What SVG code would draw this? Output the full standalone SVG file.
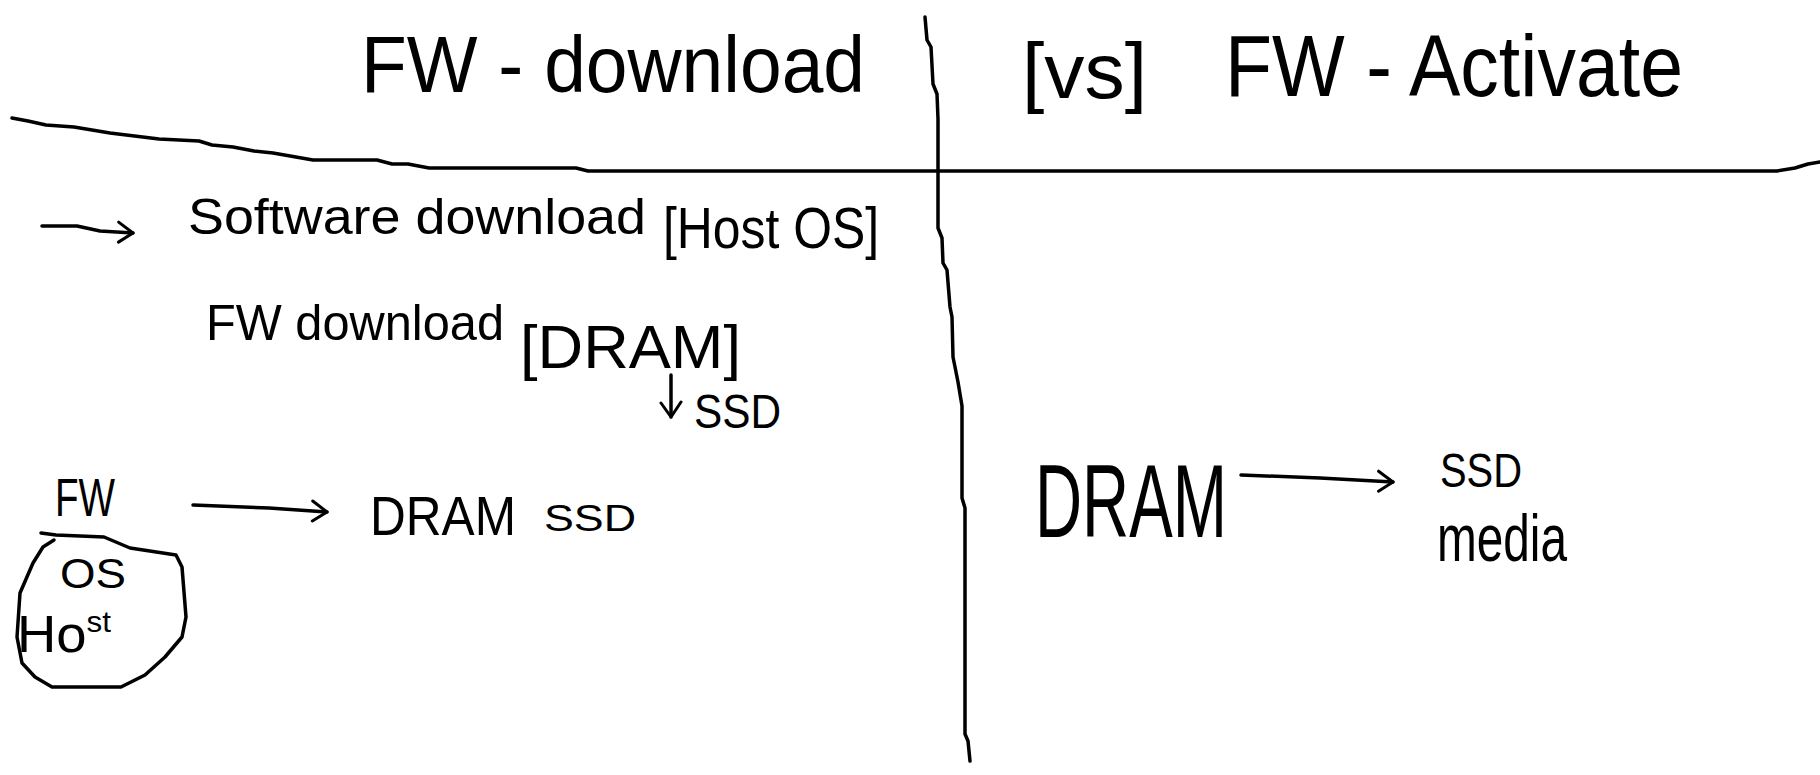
<svg xmlns="http://www.w3.org/2000/svg" width="1820" height="775" viewBox="0 0 1820 775">
<style>
.ink{fill:none;stroke:#000;stroke-width:3.5;stroke-linecap:round;stroke-linejoin:round}
.t{font-family:"Liberation Sans",Arial,sans-serif;fill:#000}
</style>
<defs>
<marker id="vh" viewBox="0 0 20 24" refX="18" refY="12" markerUnits="userSpaceOnUse" markerWidth="20" markerHeight="26" orient="auto">
<path d="M3,2 L18,12 L4,22" fill="none" stroke="#000" stroke-width="3" stroke-linecap="round" stroke-linejoin="round"/>
</marker>
</defs>
<rect width="1820" height="775" fill="#fff"/>
<g id="dividers">
<polyline class="ink" points="12,118 28,121 46,125 74,127 110,133 159,139 199,141 212,145 233,147 254,151 273,153 313,160 377,160 392,164 408,164 429,168 576,168 588,171 938,171 1777,171 1795,168 1808,164 1820,162"/>
<polyline class="ink" points="925,17 927,40 931,47 933,84 937,94 938,119 938,171 938,228 942,238 943,263 947,270 950,307 952,317 953,357 958,382 962,406 962,498 965,508 965,734 968,741 970,761"/>
</g>
<g id="title-left"><text class="t" x="361" y="92" font-size="80" textLength="504" lengthAdjust="spacingAndGlyphs">FW - download</text></g>
<g id="title-vs"><text class="t" x="1022" y="98" font-size="78" textLength="125" lengthAdjust="spacingAndGlyphs">[vs]</text></g>
<g id="title-right"><text class="t" x="1225" y="96" font-size="88" textLength="458" lengthAdjust="spacingAndGlyphs">FW - Activate</text></g>
<g id="software-download"><text class="t" x="188" y="234" font-size="50" textLength="458" lengthAdjust="spacingAndGlyphs">Software download</text></g>
<g id="host-os"><text class="t" x="663" y="248" font-size="58" textLength="216" lengthAdjust="spacingAndGlyphs">[Host OS]</text></g>
<g id="fw-download"><text class="t" x="206" y="340" font-size="50" textLength="298" lengthAdjust="spacingAndGlyphs">FW download</text></g>
<g id="dram-bracket"><text class="t" x="520" y="368" font-size="62" textLength="221" lengthAdjust="spacingAndGlyphs">[DRAM]</text></g>
<g id="ssd-1"><text class="t" x="694" y="428" font-size="48" textLength="87" lengthAdjust="spacingAndGlyphs">SSD</text></g>
<g id="fw"><text class="t" x="55" y="516" font-size="54" textLength="60" lengthAdjust="spacingAndGlyphs">FW</text></g>
<g id="host">
<polyline class="ink" points="41,533 56,535 104,537 130,548 176,555 182,567 186,617 182,637 165,657 145,675 121,687 52,687 35,677 22,663 17,637 20,593 33,563 43,547 54,540"/>
<text class="t" x="60" y="588" font-size="42" textLength="66" lengthAdjust="spacingAndGlyphs">OS</text>
<text class="t" x="17" y="652" font-size="52" textLength="94" lengthAdjust="spacingAndGlyphs">Ho<tspan font-size="30" dy="-20">st</tspan></text>
</g>
<g id="dram-ssd"><text class="t" x="370" y="535" font-size="55" textLength="146" lengthAdjust="spacingAndGlyphs">DRAM</text><text class="t" x="544" y="531" font-size="36" textLength="92" lengthAdjust="spacingAndGlyphs">SSD</text></g>
<g id="dram"><text class="t" x="1035" y="537" font-size="104" textLength="192" lengthAdjust="spacingAndGlyphs">DRAM</text></g>
<g id="ssd-media"><text class="t" x="1440" y="487" font-size="48" textLength="82" lengthAdjust="spacingAndGlyphs">SSD</text><text class="t" x="1437" y="561" font-size="66" textLength="130" lengthAdjust="spacingAndGlyphs">media</text></g>
<g id="connectors">
<polyline class="ink" marker-end="url(#vh)" points="42,226 77,226 100,231 133,233"/>
<polyline class="ink" marker-end="url(#vh)" points="671,375 671,417"/>
<polyline class="ink" marker-end="url(#vh)" points="193,505 269,508 327,512"/>
<polyline class="ink" marker-end="url(#vh)" points="1241,475 1320,478 1393,482"/>
</g>
</svg>
